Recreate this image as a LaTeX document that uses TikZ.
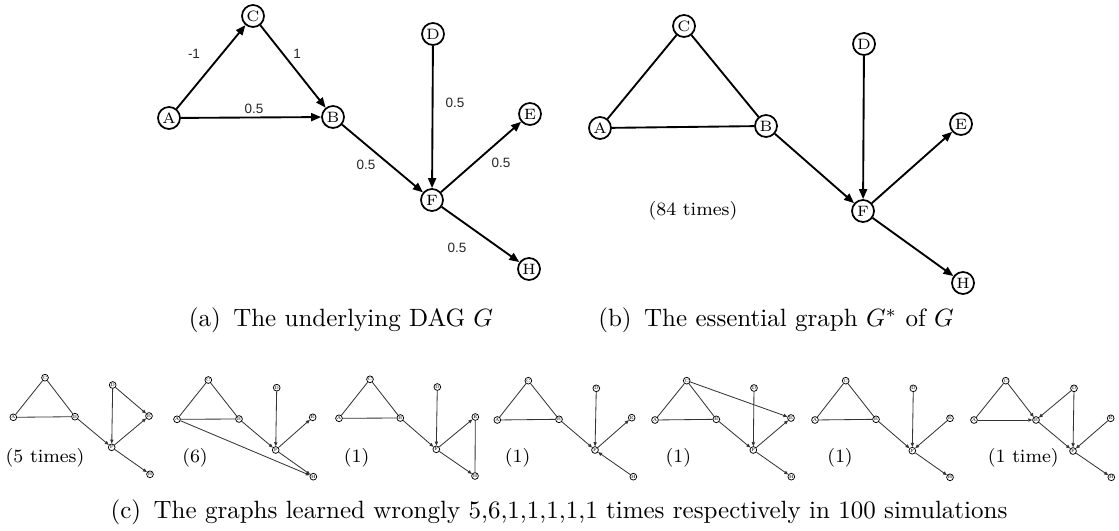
\documentclass[tikz,border=0pt]{standalone}
\usepackage{fontspec}
\newfontfamily\lblfont{Liberation Sans}
\usetikzlibrary{arrows.meta}
\newcommand\mkgraph[8]{%
  \node[sn] (#1A) at (#2) {A};
  \node[sn] (#1B) at (#3) {B};
  \node[sn] (#1C) at (#4) {C};
  \node[sn] (#1D) at (#5) {D};
  \node[sn] (#1E) at (#6) {E};
  \node[sn] (#1F) at (#7) {F};
  \node[sn] (#1H) at (#8) {H};
}
\begin{document}
\begin{tikzpicture}[x=0.4pt,y=-0.4pt,
  bn/.style={circle,draw,line width=0.7pt,minimum size=8.8pt,inner sep=0pt,font=\fontsize{6}{6}\selectfont},
  be/.style={line width=0.75pt},
  ba/.style={be,-{Triangle[length=4pt,width=3.2pt]}},
  wl/.style={font=\lblfont\fontsize{5.4}{6}\selectfont,text=black!85},
  sn/.style={circle,draw,line width=0.3pt,minimum size=2.7pt,inner sep=0pt,font=\fontsize{1.8}{2}\selectfont},
  se/.style={line width=0.33pt,draw=black!80},
  sa/.style={se,-{Triangle[length=1.6pt,width=1.3pt]}},
  cnt/.style={font=\fontsize{7.5}{9}\selectfont},
  captext/.style={font=\fontsize{10}{12}\selectfont}
]
\useasboundingbox (0,0) rectangle (1119,531);

% ---------- (a) ----------
\node[bn] (aA) at (169,118) {A};
\node[bn] (aB) at (333,117) {B};
\node[bn] (aC) at (253,16) {C};
\node[bn] (aD) at (433,34) {D};
\node[bn] (aE) at (530,114) {E};
\node[bn] (aF) at (432,200) {F};
\node[bn] (aH) at (529,269) {H};
\draw[ba] (aA) -- (aC);
\draw[ba] (aC) -- (aB);
\draw[ba] (aA) -- (aB);
\draw[ba] (aB) -- (aF);
\draw[ba] (aD) -- (aF);
\draw[ba] (aF) -- (aE);
\draw[ba] (aF) -- (aH);
\node[wl] (w1) at (194,54) {-1};
\node[wl] (w2) at (297,54) {1};
\node[wl] (w3) at (254,109) {0.5};
\node[wl] (w4) at (366,165) {0.5};
\node[wl] (w5) at (455,103) {0.5};
\node[wl] (w6) at (501,163) {0.5};
\node[wl] (w7) at (457,248) {0.5};
\node[captext] (capa) at (341,320) {(a)\, The underlying DAG $G$};

% ---------- (b) ----------
\node[bn] (bA) at (600,128) {A};
\node[bn] (bB) at (766,126) {B};
\node[bn] (bC) at (684,26) {C};
\node[bn] (bD) at (864,44) {D};
\node[bn] (bE) at (961,124) {E};
\node[bn] (bF) at (863,211) {F};
\node[bn] (bH) at (963,283) {H};
\draw[be] (bA) -- (bC);
\draw[be] (bC) -- (bB);
\draw[be] (bA) -- (bB);
\draw[ba] (bB) -- (bF);
\draw[ba] (bD) -- (bF);
\draw[ba] (bF) -- (bE);
\draw[ba] (bF) -- (bH);
\node[cnt] (bt) at (693,211) {(84 times)};
\node[captext] (capb) at (776,320) {(b)\, The essential graph $G^*$ of $G$};

% ---------- (c) ----------
% graph 1
\mkgraph{p}{13.3,417.3}{75,416.7}{45,377.7}{112.7,385}{149,416}{111.7,447.3}{150,474.3}
\draw[se] (pA) -- (pC); \draw[se] (pC) -- (pB); \draw[se] (pA) -- (pB);
\draw[sa] (pB) -- (pF); \draw[sa] (pD) -- (pF); \draw[sa] (pD) -- (pE);
\draw[sa] (pF) -- (pE); \draw[sa] (pF) -- (pH);
\node[cnt] (pt) at (45,458.3) {(5 times)};
% graph 2
\mkgraph{q}{177,419.3}{239,419}{208.3,380}{276.7,387.7}{312.7,417.3}{275.7,450}{313.3,476.7}
\draw[se] (qA) -- (qC); \draw[se] (qC) -- (qB); \draw[se] (qA) -- (qB);
\draw[sa] (qB) -- (qF); \draw[sa] (qD) -- (qF); \draw[sa] (qF) -- (qE);
\draw[sa] (qF) -- (qH); \draw[sa] (qA) -- (qH);
\node[cnt] (qt) at (195,458.3) {(6)};
% graph 3
\mkgraph{r}{339,418.3}{400.3,418}{370,379.3}{437.3,387}{475.3,417}{436.3,449.3}{475,476}
\draw[se] (rA) -- (rC); \draw[se] (rC) -- (rB); \draw[se] (rA) -- (rB);
\draw[sa] (rB) -- (rF); \draw[sa] (rD) -- (rF); \draw[sa] (rF) -- (rE);
\draw[sa] (rF) -- (rH); \draw[se] (rE) -- (rH);
\node[cnt] (rt) at (356.7,458.3) {(1)};
% graph 4
\mkgraph{s}{497.3,420}{559,419.3}{528.3,380.7}{596.3,388.3}{631.7,417.7}{595,450}{633.3,476.7}
\draw[se] (sA) -- (sC); \draw[se] (sC) -- (sB); \draw[se] (sA) -- (sB);
\draw[sa] (sB) -- (sF); \draw[sa] (sD) -- (sF); \draw[sa] (sF) -- (sE);
\draw[sa] (sH) -- (sF);
\node[cnt] (st) at (517.7,458.3) {(1)};
% graph 5
\mkgraph{t}{655,420}{716.3,419.3}{686.7,380.7}{754,388}{791,418}{753.3,450}{791.3,476.7}
\draw[se] (tA) -- (tC); \draw[se] (tC) -- (tB); \draw[se] (tA) -- (tB);
\draw[sa] (tB) -- (tF); \draw[sa] (tD) -- (tF); \draw[sa] (tF) -- (tE);
\draw[sa] (tF) -- (tH); \draw[sa] (tC) -- (tE);
\node[cnt] (tt) at (678.3,458.3) {(1)};
% graph 6
\mkgraph{u}{815,420}{876,419.3}{845.7,380.7}{913.3,388.3}{950,418.3}{912.3,450.7}{950,477.3}
\draw[se] (uA) -- (uC); \draw[se] (uC) -- (uB); \draw[se] (uA) -- (uB);
\draw[sa] (uB) -- (uF); \draw[sa] (uD) -- (uF); \draw[sa] (uE) -- (uF);
\draw[sa] (uF) -- (uH);
\node[cnt] (ut) at (840,458.3) {(1)};
% graph 7
\mkgraph{v}{974,420}{1036,420}{1005.7,380.7}{1074,388.3}{1110.7,418.3}{1073,451}{1111.3,477.3}
\draw[se] (vA) -- (vC); \draw[sa] (vC) -- (vB); \draw[sa] (vA) -- (vB);
\draw[sa] (vD) -- (vB); \draw[sa] (vD) -- (vF); \draw[sa] (vB) -- (vF);
\draw[sa] (vE) -- (vF); \draw[sa] (vF) -- (vH);
\node[cnt] (vt) at (1023.3,458.3) {(1 time)};

\node[captext] (capc) at (559,512) {(c)\, The graphs learned wrongly 5,6,1,1,1,1,1 times respectively in 100 simulations};
\end{tikzpicture}
\end{document}
